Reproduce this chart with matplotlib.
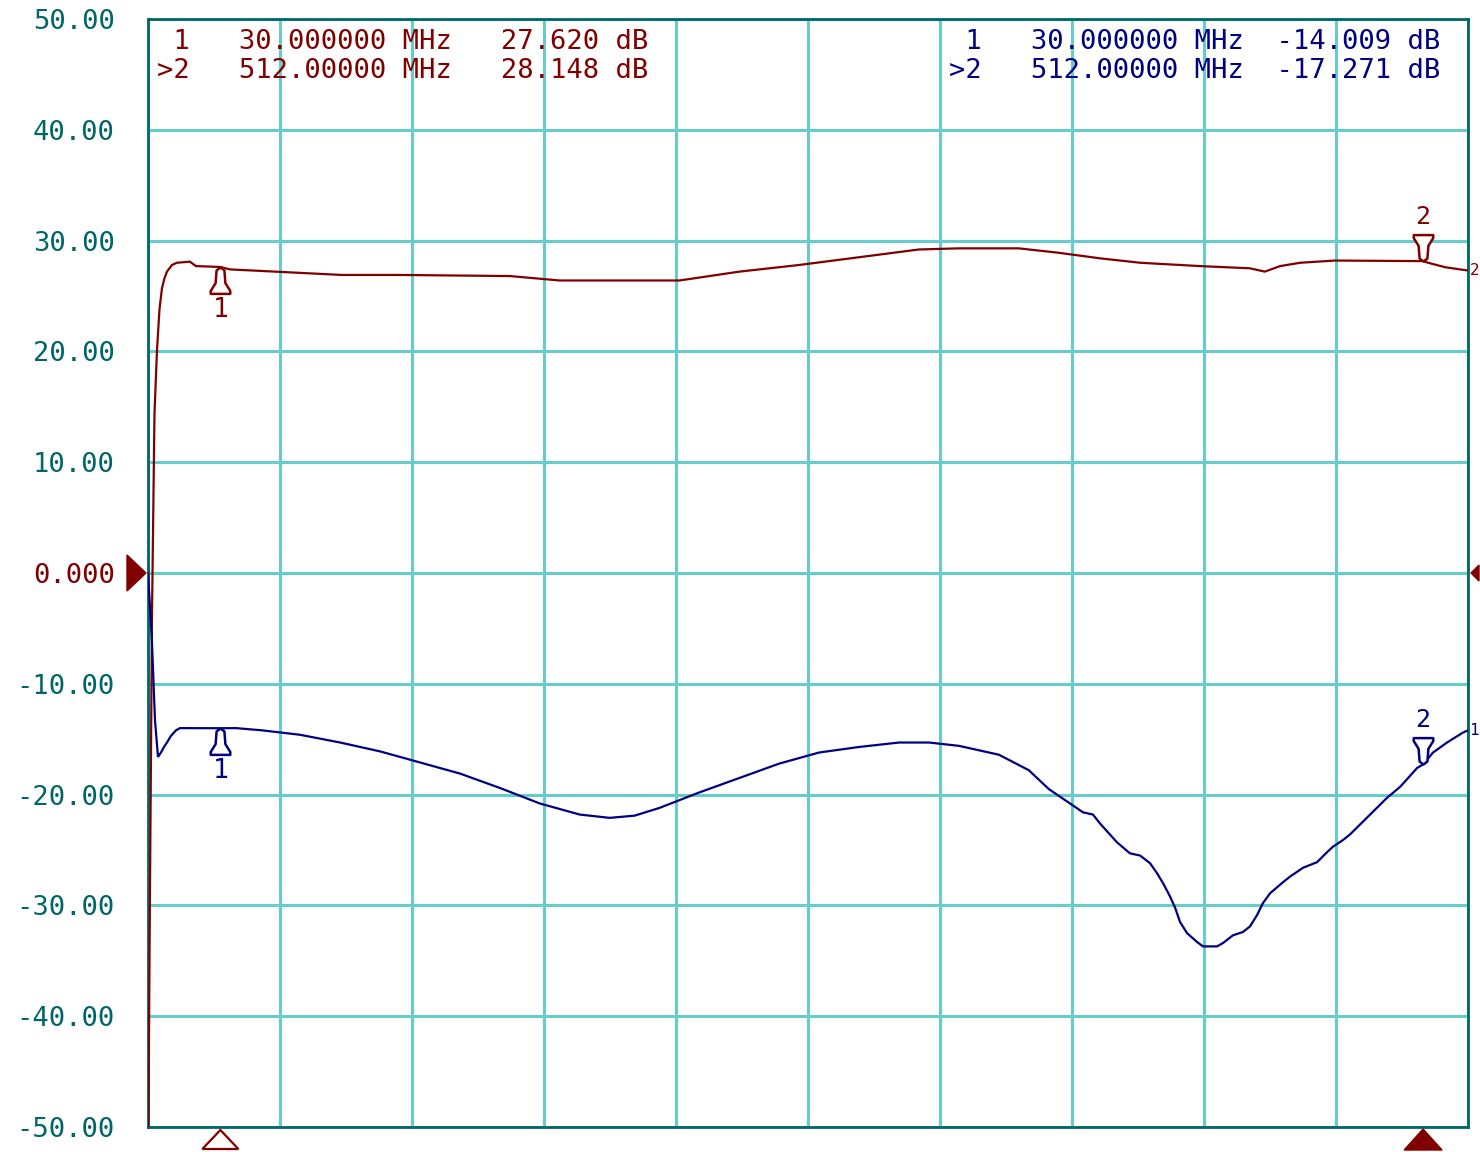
import numpy as np
import matplotlib
matplotlib.use("Agg")
import matplotlib.pyplot as plt
from matplotlib.path import Path
from matplotlib.patches import Polygon

# ---------------- data ----------------
f_start, f_stop = 1.0, 530.0          # MHz
y_min, y_max = -50.0, 50.0            # dB

# S21 (red trace)
red_f = [1.0, 1.6, 2.6, 3.6, 4.6, 5.6, 6.6, 7.6, 8.6, 9.6, 10.6, 12.6, 17.8, 20.2,
         30.0, 33.9, 51.9, 78.7, 102, 146, 166, 190, 214, 238, 262, 286, 310, 326,
         350, 366, 382.5, 398.6, 422.6, 442.6, 448.6, 454.7, 462.7, 476.7, 512,
         514, 520.8, 526.8, 530]
red_db = [-55, -34.7, -3.8, 14.4, 20.1, 23.8, 25.7, 26.6, 27.2, 27.5, 27.8, 28.0, 28.1, 27.7,
          27.62, 27.4, 27.2, 26.9, 26.9, 26.8, 26.4, 26.4, 26.4, 27.2, 27.8, 28.5, 29.2, 29.3,
          29.3, 28.9, 28.4, 28.0, 27.7, 27.5, 27.2, 27.7, 28.0, 28.2, 28.148,
          28.0, 27.6, 27.4, 27.3]

# S11 (blue trace)
blue_f = [1.0, 1.6, 2.6, 3.8, 5.0, 6.2, 7.4, 8.6, 10.2, 12.2, 13.8, 30.0, 36.3, 46.7,
          61.9, 78, 94, 110, 126, 142, 158, 174, 186, 196, 206, 222, 238, 254, 270,
          286, 302, 314, 326, 342, 354, 362, 370.5, 375.7, 379.7, 382.5, 389.3, 394.5,
          398.6, 402.6, 405.4, 407.8, 410.6, 412.6, 414.6, 417.4, 421.4, 423.8, 429.4,
          431.8, 435.8, 439.8, 442.6, 445.4, 447.8, 450.7, 455.9, 458.7, 463.9, 469.5,
          473.5, 475.9, 479.9, 482.7, 497.5, 502.8, 509.6, 512, 516, 521.6, 528, 530]
blue_db = [0.0, -2.3, -6.3, -13.3, -16.6, -16.2, -15.7, -15.3, -14.7, -14.2, -14.0, -14.009, -14.0, -14.2,
           -14.6, -15.3, -16.1, -17.1, -18.1, -19.4, -20.8, -21.8, -22.1, -21.9, -21.2, -19.8, -18.5, -17.2, -16.2,
           -15.7, -15.3, -15.3, -15.6, -16.4, -17.8, -19.5, -20.8, -21.6, -21.8, -22.6, -24.3, -25.3,
           -25.5, -26.2, -27.1, -28.0, -29.2, -30.2, -31.5, -32.5, -33.3, -33.7, -33.7,
           -33.4, -32.7, -32.4, -31.9, -30.9, -29.8, -28.9, -27.9, -27.4, -26.6, -26.1,
           -25.2, -24.7, -24.1, -23.6, -20.3, -19.3, -17.6, -17.271, -16.2, -15.3, -14.4, -14.2]

marker_f = [30.0, 512.0]
red_marker_db = [27.620, 28.148]
blue_marker_db = [-14.009, -17.271]

y_ticks = [50, 40, 30, 20, 10, 0, -10, -20, -30, -40, -50]
y_tick_labels = ["50.00", "40.00", "30.00", "20.00", "10.00", "0.000",
                 "-10.00", "-20.00", "-30.00", "-40.00", "-50.00"]

red_lines = [" 1   30.000000 MHz   27.620 dB", ">2   512.00000 MHz   28.148 dB"]
blue_lines = [" 1   30.000000 MHz  -14.009 dB", ">2   512.00000 MHz  -17.271 dB"]

# ---------------- style ----------------
RED = "#800000"
BLUE = "#000080"
TEAL = "#006666"
GRID = "#66CCCC"
MONO = "DejaVu Sans Mono"

W, H = 1480, 1152
fig = plt.figure(figsize=(W / 100, H / 100), dpi=100)
ax = fig.add_axes([148 / W, 1 - 1127 / H, 1320 / W, 1108 / H])
ax.set_xlim(f_start, f_stop)
ax.set_ylim(y_min, y_max)

ax.set_xticks(np.linspace(f_start, f_stop, 11))
ax.set_xticklabels([])
ax.set_yticks(y_ticks)
ax.set_yticklabels(y_tick_labels, family=MONO, fontsize=19.5)
ax.tick_params(length=0, pad=24)
for lbl in ax.get_yticklabels():
    lbl.set_color(RED if lbl.get_text() == "0.000" else TEAL)
ax.grid(True, color=GRID, linewidth=2.2, zorder=0)
ax.set_axisbelow(True)
for s in ax.spines.values():
    s.set_color(TEAL)
    s.set_linewidth(2.0)
    s.set_zorder(2.5)

ax.plot(red_f, red_db, color=RED, linewidth=1.6, zorder=3, solid_joinstyle="miter")
ax.plot(blue_f, blue_db, color=BLUE, linewidth=1.6, zorder=3, solid_joinstyle="miter")

# marker pointers (pen-nib shapes)
up_nib = Path([(0, 0), (-2, -1.5), (-2.5, -8), (-5, -12), (-5, -13.5), (5, -13.5),
               (5, -12), (2.5, -8), (2, -1.5), (0, 0)],
              [Path.MOVETO] + [Path.LINETO] * 8 + [Path.CLOSEPOLY])
down_nib = Path([(x, -y) for x, y in up_nib.vertices], up_nib.codes)

for db_vals, col in ((red_marker_db, RED), (blue_marker_db, BLUE)):
    # marker 1: pointer below, number below
    ax.plot([marker_f[0]], [db_vals[0]], marker=up_nib, markersize=38,
            markerfacecolor="white", markeredgecolor=col, markeredgewidth=1.8,
            linestyle="none", zorder=4)
    ax.annotate("1", (marker_f[0], db_vals[0]), xytext=(0, -43), textcoords="offset pixels",
                ha="center", va="center", color=col, family=MONO, fontsize=19, zorder=4)
    # marker 2: pointer above, number above
    ax.plot([marker_f[1]], [db_vals[1]], marker=down_nib, markersize=38,
            markerfacecolor="white", markeredgecolor=col, markeredgewidth=1.8,
            linestyle="none", zorder=4)
    ax.annotate("2", (marker_f[1], db_vals[1]), xytext=(0, 44), textcoords="offset pixels",
                ha="center", va="center", color=col, family=MONO, fontsize=18, zorder=4)

# reference level triangles at 0 dB
px_f = (f_stop - f_start) / 1320.0
px_db = (y_max - y_min) / 1108.0
ax.add_patch(Polygon([(f_start - 21 * px_f, 18 * px_db), (f_start - 21 * px_f, -18 * px_db),
                      (f_start - 2 * px_f, 0)], closed=True, color=RED, clip_on=False, zorder=5))
ax.add_patch(Polygon([(f_stop + 11 * px_f, 8 * px_db), (f_stop + 11 * px_f, -8 * px_db),
                      (f_stop + 3 * px_f, 0)], closed=True, color=RED, clip_on=False, zorder=5))

# stimulus markers under the axis
ax.add_patch(Polygon([(marker_f[0], y_min - 3 * px_db), (marker_f[0] - 18 * px_f, y_min - 22 * px_db),
                      (marker_f[0] + 18 * px_f, y_min - 22 * px_db)], closed=True,
                     facecolor="white", edgecolor=RED, linewidth=1.6, clip_on=False, zorder=5))
ax.add_patch(Polygon([(marker_f[1], y_min - 2 * px_db), (marker_f[1] - 19 * px_f, y_min - 23 * px_db),
                      (marker_f[1] + 19 * px_f, y_min - 23 * px_db)], closed=True,
                     facecolor=RED, edgecolor=RED, linewidth=1.0, clip_on=False, zorder=5))

# trace end labels at right edge
ax.text(f_stop + 1.5 * px_f, red_db[-1], "2", color=RED, family=MONO, fontsize=11.5,
        ha="left", va="center", clip_on=False)
ax.text(f_stop + 1.5 * px_f, blue_db[-1], "1", color=BLUE, family=MONO, fontsize=11.5,
        ha="left", va="center", clip_on=False)

# marker readouts
for i, (rl, bl) in enumerate(zip(red_lines, blue_lines)):
    yy = 1 - (42 + 29 * i) / H
    fig.text(157 / W, yy, rl, color=RED, family=MONO, fontsize=19.5, ha="left", va="center")
    fig.text(949 / W, yy, bl, color=BLUE, family=MONO, fontsize=19.5, ha="left", va="center")

fig.savefig("out.png", dpi=100, facecolor="white")
